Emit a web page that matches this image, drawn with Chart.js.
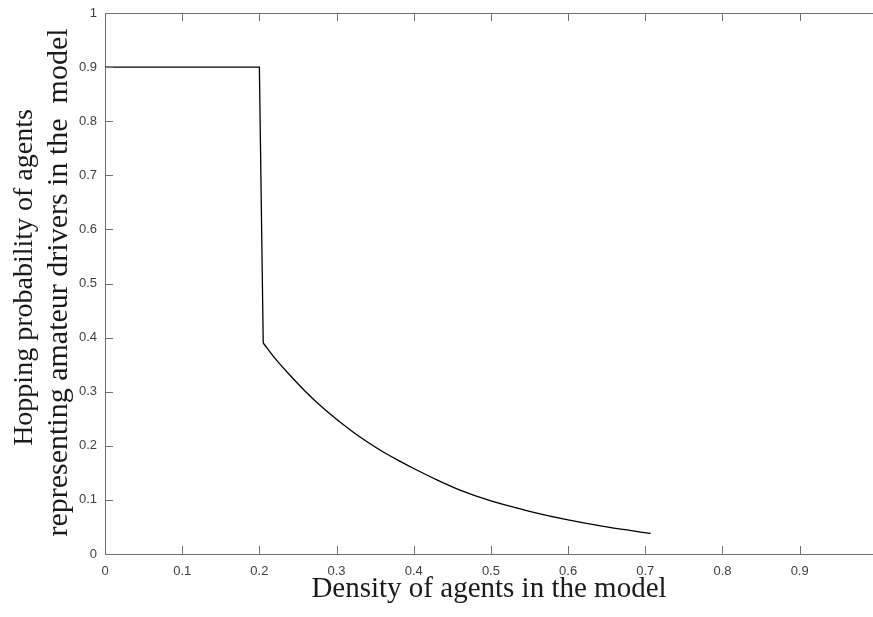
<!DOCTYPE html>
<html>
<head>
<meta charset="utf-8">
<script src="https://cdn.jsdelivr.net/npm/chart.js@4"></script>
<style>
  html, body { margin: 0; padding: 0; background: #fff; }
  #wrap { width: 873px; height: 617px; }
</style>
</head>
<body>
<div id="wrap"><canvas id="chart" width="873" height="617"></canvas></div>
<script>
// values
const density = [0, 0.2, 0.205, 0.22, 0.24, 0.26, 0.28, 0.30, 0.32, 0.34, 0.36, 0.38, 0.40, 0.43, 0.46, 0.50, 0.55, 0.60, 0.65, 0.707];
const hopping = [0.9, 0.9, 0.39, 0.362, 0.33, 0.30, 0.273, 0.249, 0.227, 0.207, 0.189, 0.173, 0.158, 0.137, 0.118, 0.098, 0.079, 0.063, 0.05, 0.038];
const xTicks = [0, 0.1, 0.2, 0.3, 0.4, 0.5, 0.6, 0.7, 0.8, 0.9];
const yTicks = [0, 0.1, 0.2, 0.3, 0.4, 0.5, 0.6, 0.7, 0.8, 0.9, 1];
const yTitle = ['Hopping probability of agents', 'representing amateur drivers in the  model'];

const axisColor = '#707070';
const tickLen = 8;
const points = density.map((d, i) => ({ x: d, y: hopping[i] }));

// MATLAB style: ticks point inward, box line on top
const innerTicks = {
  id: 'innerTicks',
  afterDraw(chart) {
    const { ctx, chartArea } = chart;
    const xs = chart.scales.x, ys = chart.scales.y;
    ctx.save();
    ctx.strokeStyle = axisColor;
    ctx.lineWidth = 1;
    ctx.beginPath();
    ctx.moveTo(chartArea.left, chartArea.top + 0.5);
    ctx.lineTo(chartArea.right, chartArea.top + 0.5);
    xTicks.forEach(v => {
      if (v === 0) return;
      const px = Math.round(xs.getPixelForValue(v)) + 0.5;
      ctx.moveTo(px, chartArea.bottom);
      ctx.lineTo(px, chartArea.bottom - tickLen);
      ctx.moveTo(px, chartArea.top);
      ctx.lineTo(px, chartArea.top + tickLen);
    });
    yTicks.forEach(v => {
      if (v === 0 || v === 1) return;
      const py = Math.round(ys.getPixelForValue(v)) + 0.5;
      ctx.moveTo(chartArea.left, py);
      ctx.lineTo(chartArea.left + tickLen, py);
    });
    ctx.stroke();

    // two-line rotated y title (second line is set a bit wider in the original)
    const cy = (chartArea.top + chartArea.bottom) / 2;
    ctx.fillStyle = '#1a1a1a';
    ctx.textAlign = 'center';
    ctx.textBaseline = 'middle';
    ctx.translate(0, cy);
    ctx.rotate(-Math.PI / 2);
    ctx.font = '28px "Liberation Serif"';
    ctx.fillText(yTitle[0], 6, 25);
    ctx.font = '30px "Liberation Serif"';
    ctx.fillText(yTitle[1], 1, 59);
    ctx.restore();
  }
};

const ctx = document.getElementById('chart').getContext('2d');
new Chart(ctx, {
  type: 'line',
  data: {
    datasets: [{
      // flat part and the drop
      data: points.slice(0, 3),
      borderColor: '#000',
      borderWidth: 1.3,
      pointRadius: 0,
      tension: 0,
      fill: false
    }, {
      // decaying part
      data: points.slice(2),
      borderColor: '#000',
      borderWidth: 1.3,
      pointRadius: 0,
      cubicInterpolationMode: 'monotone',
      fill: false
    }]
  },
  options: {
    responsive: false,
    animation: false,
    layout: { padding: { top: 13, right: 0, left: 0, bottom: 0 } },
    plugins: { legend: { display: false }, tooltip: { enabled: false } },
    scales: {
      x: {
        type: 'linear',
        min: 0,
        max: 0.995,
        afterFit: s => { s.height = 63; s.paddingLeft = 0; s.paddingRight = 0; },
        afterBuildTicks: s => { s.ticks = xTicks.map(v => ({ value: v })); },
        grid: { display: false, drawTicks: false },
        border: { display: true, color: axisColor, width: 1 },
        ticks: {
          color: '#404040',
          font: { family: 'Liberation Sans', size: 13 },
          padding: 10,
          maxRotation: 0,
          callback: v => String(Math.round(v * 10) / 10)
        },
        title: {
          display: true,
          text: 'Density of agents in the model',
          color: '#1a1a1a',
          font: { family: 'Liberation Serif', size: 29, lineHeight: 1.18 },
          padding: { top: 0, bottom: 10 }
        }
      },
      y: {
        type: 'linear',
        min: 0,
        max: 1,
        afterFit: s => { s.width = 105; s.paddingTop = 0; s.paddingBottom = 0; },
        afterBuildTicks: s => { s.ticks = yTicks.map(v => ({ value: v })); },
        grid: { display: false, drawTicks: false },
        border: { display: true, color: axisColor, width: 1 },
        ticks: {
          color: '#404040',
          font: { family: 'Liberation Sans', size: 13 },
          padding: 8,
          callback: v => String(Math.round(v * 10) / 10)
        },
        title: { display: false }
      }
    }
  },
  plugins: [innerTicks]
});
</script>
</body>
</html>
